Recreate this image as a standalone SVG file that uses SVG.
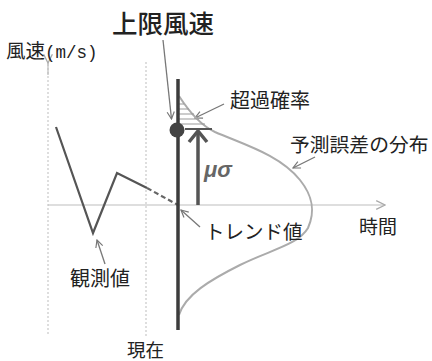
<svg xmlns="http://www.w3.org/2000/svg" width="432" height="361" viewBox="0 0 432 361">
<defs>
<style>
.t{font-family:"Noto Sans CJK JP","Liberation Sans",sans-serif;fill:#222}
.axis{stroke:#bdbdbd;stroke-width:1.2;fill:none}
.vdot{stroke:#c8c8c8;stroke-width:1.2;stroke-dasharray:2 2;fill:none}
.lead{stroke:#777;stroke-width:1.3;fill:none}
</style>
<marker id="ah" viewBox="0 0 10 10" refX="9" refY="5" markerWidth="9" markerHeight="9" markerUnits="userSpaceOnUse" orient="auto">
<path d="M1,1 L9,5 L1,9" fill="none" stroke="#777" stroke-width="1.3"/>
</marker>
<marker id="aha" viewBox="0 0 10 10" refX="9" refY="5" markerWidth="11" markerHeight="11" markerUnits="userSpaceOnUse" orient="auto">
<path d="M1,1 L9,5 L1,9" fill="none" stroke="#aaa" stroke-width="1.2"/>
</marker>
</defs>
<g id="connectors">
<line class="vdot" x1="48" y1="64" x2="48" y2="334"/>
<line class="axis" x1="48" y1="63" x2="48" y2="75" marker-start="url(#aha)"/>
<line class="vdot" x1="146" y1="62" x2="146" y2="336"/>
<line class="axis" x1="48" y1="205" x2="385" y2="205" marker-end="url(#aha)"/>
<line class="lead" x1="163" y1="40" x2="171.5" y2="119" marker-end="url(#ah)"/>
<line class="lead" x1="224" y1="104" x2="195" y2="118" marker-end="url(#ah)"/>
<line class="lead" x1="315" y1="157" x2="293" y2="168" marker-end="url(#ah)"/>
<line class="lead" x1="200" y1="227" x2="181" y2="210" marker-end="url(#ah)"/>
<line class="lead" x1="105" y1="264" x2="97" y2="240" marker-end="url(#ah)"/>
</g>
<g id="observed">
<polyline points="56,127 93,233 117,173 147,188" fill="none" stroke="#555" stroke-width="2.2" stroke-linejoin="miter"/>
<line x1="147" y1="188" x2="178" y2="205" stroke="#666" stroke-width="2.2" stroke-dasharray="5 3"/>
</g>
<g id="distribution">
<path d="M179,96 C188,110 200,125 215,132 C245,145 280,155 300,180 C312,195 316,210 308,228 C298,245 270,250 240,265 C210,280 185,295 179,315" fill="none" stroke="#ababab" stroke-width="2"/>
<g stroke="#999" stroke-width="1">
<line x1="178" y1="104" x2="184" y2="104"/>
<line x1="178" y1="109" x2="189" y2="109"/>
<line x1="178" y1="114" x2="194" y2="114"/>
<line x1="178" y1="119" x2="199" y2="119"/>
<line x1="178" y1="124" x2="205" y2="124"/>
</g>
</g>
<g id="now-line">
<line x1="178" y1="79" x2="178" y2="330" stroke="#3c3c3c" stroke-width="3.5"/>
<circle cx="177" cy="130" r="7.5" fill="#444"/>
</g>
<g id="mu-sigma">
<line x1="185" y1="129" x2="212" y2="129" stroke="#555" stroke-width="2"/>
<line x1="198" y1="131" x2="198" y2="205" stroke="#555" stroke-width="3.5"/>
<path d="M189,142 L198,131 L207,142" fill="none" stroke="#555" stroke-width="3.5"/>
<text x="204" y="177" font-family="Liberation Sans,sans-serif" font-size="22" font-style="italic" font-weight="bold" fill="#666">μσ</text>
</g>
<g id="labels">
<text class="t" x="112" y="33" font-size="25.5" font-weight="500">上限風速</text>
<text class="t" x="6" y="58" font-size="19.5">風速<tspan font-family="Liberation Mono,monospace" font-size="17.5">(m/s)</tspan></text>
<text class="t" x="230" y="108" font-size="20">超過確率</text>
<text class="t" x="290" y="152" font-size="19.8">予測誤差の分布</text>
<text class="t" x="359" y="234" font-size="19">時間</text>
<text class="t" x="205" y="239" font-size="19.5">トレンド値</text>
<text class="t" x="70" y="286" font-size="20">観測値</text>
<text class="t" x="127" y="357" font-size="18.5">現在</text>
</g>
</svg>
